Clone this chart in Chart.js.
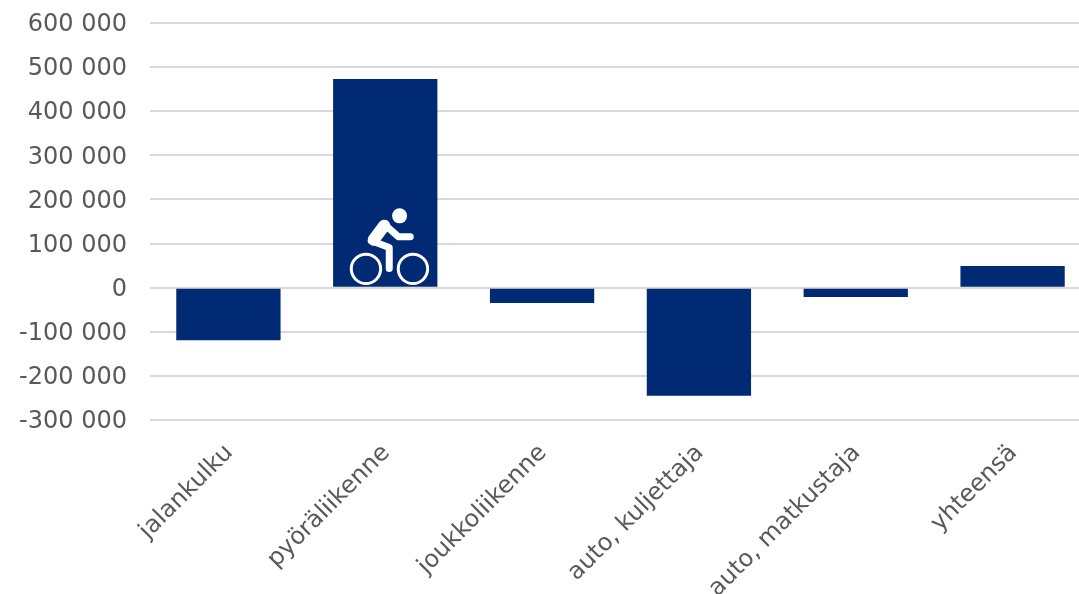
<!DOCTYPE html>
<html>
<head>
<meta charset="utf-8">
<style>
html, body { margin: 0; padding: 0; background: #fff; overflow: hidden; }
#wrap { position: relative; width: 1091px; height: 594px; }
</style>
<script src="https://cdn.jsdelivr.net/npm/chart.js@4"></script>
</head>
<body>
<div id="wrap"><canvas id="chart"></canvas></div>
<script>
var categories = ['jalankulku', 'pyöräliikenne', 'joukkoliikenne', 'auto, kuljettaja', 'auto, matkustaja', 'yhteensä'];
var values = [-119000, 473000, -35000, -245000, -21000, 49000];

function formatTick(v) {
	var s = String(Math.abs(v)).replace(/\B(?=(\d{3})+$)/g, ' ');
	return v < 0 ? '-' + s : s;
}

// cyclist icon standing on the zero line of the second bar
var bikeIcon = {
	id: 'bikeIcon',
	afterDatasetsDraw: function(chart) {
		var ctx = chart.ctx;
		var cx = chart.scales.x.getPixelForValue(1);
		var y0 = chart.scales.y.getPixelForValue(0);
		ctx.save();
		ctx.translate(cx, y0);
		ctx.strokeStyle = '#fff';
		ctx.fillStyle = '#fff';
		ctx.lineCap = 'round';
		ctx.lineJoin = 'round';

		ctx.beginPath();
		ctx.arc(14.3, -71.8, 7.5, 0, Math.PI * 2);
		ctx.fill();

		ctx.lineWidth = 3;
		ctx.beginPath();
		ctx.arc(-19.3, -18.8, 14.7, 0, Math.PI * 2);
		ctx.stroke();
		ctx.beginPath();
		ctx.arc(27.7, -18.8, 14.7, 0, Math.PI * 2);
		ctx.stroke();

		ctx.lineWidth = 12;
		ctx.beginPath();
		ctx.moveTo(-1, -62);
		ctx.lineTo(-11.5, -48);
		ctx.stroke();

		ctx.lineWidth = 7;
		ctx.beginPath();
		ctx.moveTo(0, -62.5);
		ctx.lineTo(13.3, -50.8);
		ctx.lineTo(25, -50.8);
		ctx.stroke();

		ctx.beginPath();
		ctx.moveTo(-14, -47);
		ctx.lineTo(4, -40.2);
		ctx.lineTo(4, -19.2);
		ctx.stroke();
		ctx.restore();
	}
};

var ctx = document.getElementById('chart').getContext('2d');
window.myBar = new Chart(ctx, {
	type: 'bar',
	data: {
		labels: categories,
		datasets: [{
			data: values,
			backgroundColor: '#002a74',
			categoryPercentage: 1,
			barPercentage: 0.665
		}]
	},
	plugins: [bikeIcon],
	options: {
		responsive: true,
		maintainAspectRatio: false,
		animation: false,
		layout: { padding: { top: 23, right: 0, bottom: 0, left: 0 } },
		plugins: {
			legend: { display: false },
			title: { display: false },
			tooltip: { enabled: false }
		},
		scales: {
			x: {
				grid: { display: false },
				border: { display: false },
				afterFit: function(scale) { scale.height = 174; },
				ticks: {
					autoSkip: false,
					minRotation: 45,
					maxRotation: 45,
					padding: 11,
					labelOffset: 1,
					color: '#595959',
					font: { family: 'DejaVu Sans', size: 24 }
				}
			},
			y: {
				min: -300000,
				max: 600000,
				border: { display: false },
				afterFit: function(scale) {
					scale.width = 150;
					scale.paddingTop = 0;
					scale.paddingBottom = 0;
				},
				grid: { color: '#d9d9d9', lineWidth: 2, drawTicks: false },
				ticks: {
					stepSize: 100000,
					padding: 23,
					labelOffset: 2,
					color: '#595959',
					font: { family: 'DejaVu Sans', size: 24 },
					callback: formatTick
				}
			}
		}
	}
});
</script>
</body>
</html>
